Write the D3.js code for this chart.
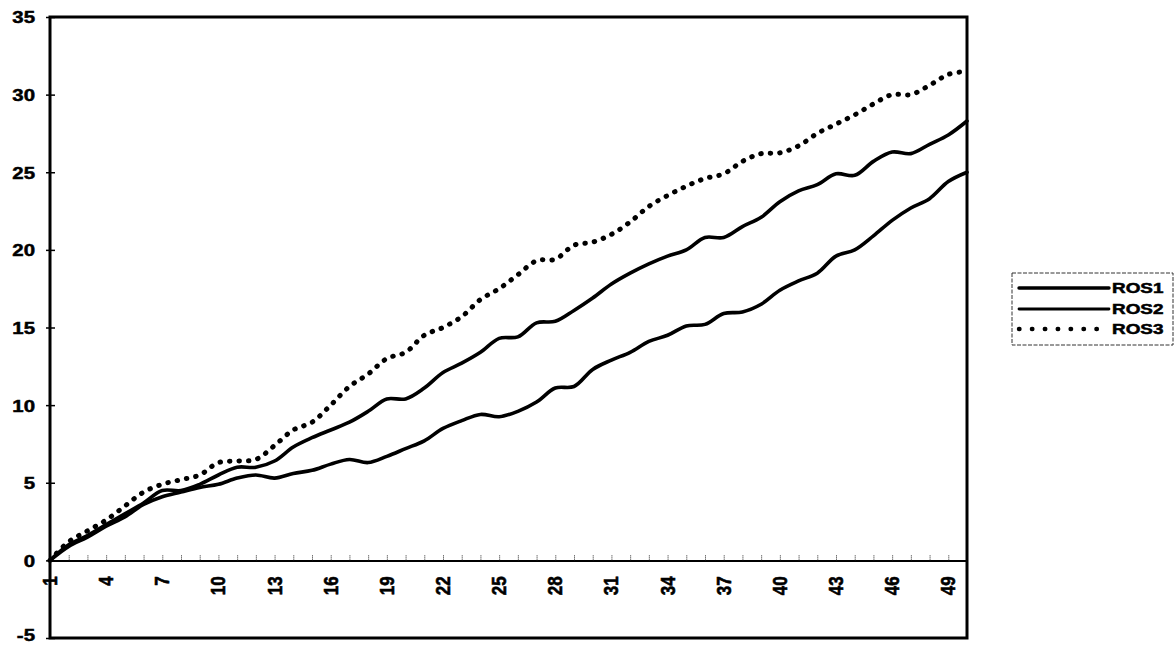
<!DOCTYPE html>
<html>
<head>
<meta charset="utf-8">
<script src="https://cdn.jsdelivr.net/npm/d3@7/dist/d3.min.js"></script>
<style>
  html, body { margin: 0; padding: 0; background: #fff; }
  svg { display: block; }
  text { font-family: "Liberation Sans", Arial, sans-serif; font-weight: bold; fill: #000; stroke: #000; stroke-width: 0.5px; }
</style>
</head>
<body>
<svg id="chart" width="1175" height="646"></svg>
<script>
// Periods 1..50
const periods = d3.range(1, 51);

// Cumulative values per series
const ros1 = [0, 0.9, 1.5, 2.2, 2.8, 3.6, 4.1, 4.4, 4.7, 4.9,
              5.3, 5.5, 5.3, 5.6, 5.8, 6.2, 6.5, 6.3, 6.7, 7.2,
              7.7, 8.5, 9.0, 9.4, 9.25, 9.6, 10.2, 11.1, 11.2, 12.3,
              12.9, 13.4, 14.1, 14.5, 15.1, 15.2, 15.9, 16.0, 16.5, 17.4,
              18.0, 18.5, 19.6, 20.0, 20.9, 21.9, 22.7, 23.3, 24.4, 25.0];

const ros2 = [0, 1.0, 1.6, 2.3, 3.0, 3.7, 4.5, 4.5, 4.9, 5.5,
              6.0, 6.0, 6.4, 7.3, 7.9, 8.4, 8.9, 9.6, 10.4, 10.4,
              11.1, 12.1, 12.7, 13.4, 14.3, 14.4, 15.3, 15.4, 16.1, 16.9,
              17.8, 18.5, 19.1, 19.6, 20.0, 20.8, 20.8, 21.5, 22.1, 23.1,
              23.8, 24.2, 24.9, 24.8, 25.7, 26.3, 26.2, 26.8, 27.4, 28.3];

const ros3 = [0, 1.2, 1.9, 2.6, 3.5, 4.4, 4.9, 5.2, 5.5, 6.3,
              6.4, 6.5, 7.4, 8.4, 8.9, 10.0, 11.2, 12.0, 13.0, 13.4,
              14.5, 15.0, 15.7, 16.8, 17.5, 18.4, 19.3, 19.4, 20.3, 20.5,
              21.0, 21.8, 22.8, 23.5, 24.1, 24.6, 24.9, 25.7, 26.2, 26.25,
              26.7, 27.5, 28.1, 28.7, 29.4, 30.0, 30.0, 30.6, 31.3, 31.5];

const seriesNames = ["ROS1", "ROS2", "ROS3"];
const seriesValues = [ros1, ros2, ros3];

const yTicks = [-5, 0, 5, 10, 15, 20, 25, 30, 35];
const xTickLabels = periods.filter(p => (p - 1) % 3 === 0);

const svg = d3.select("#chart");

const plot = { left: 50, right: 967, top: 17, bottom: 638 };

const x = d3.scalePoint()
  .domain(periods)
  .range([plot.left, plot.right]);

const y = d3.scaleLinear()
  .domain([-5, 35])
  .range([plot.bottom, plot.top]);

// Value axis (left)
const yAxis = d3.axisLeft(y)
  .tickValues(yTicks)
  .tickSize(0)
  .tickPadding(0)
  .tickFormat(d => String(d));

const gy = svg.append("g")
  .attr("transform", `translate(${plot.left},0)`)
  .call(yAxis);
gy.select(".domain").remove();
gy.selectAll(".tick text")
  .attr("x", 0)
  .attr("dy", null)
  .attr("dominant-baseline", "central")
  .attr("text-anchor", "end")
  .attr("transform", d => `translate(-15,${d === -5 ? -3 : 0}) scale(1.2,1)`)
  .style("font-size", "17px");
gy.selectAll(".tick")
  .append("line")
  .attr("x1", -4).attr("x2", 5)
  .attr("stroke", "#000").attr("stroke-width", 1.5);

// Category axis at zero
const gx = svg.append("g")
  .attr("transform", `translate(0,${y(0)})`)
  .call(d3.axisBottom(x).tickSize(0).tickFormat(""));
gx.select(".domain")
  .attr("stroke", "#000")
  .attr("stroke-width", 2);
gx.selectAll(".tick")
  .append("line")
  .attr("y1", -5).attr("y2", 0)
  .attr("stroke", "#222").attr("stroke-width", 1)
  .attr("stroke-dasharray", "1 1");

// Rotated period labels under the zero line
svg.append("g")
  .selectAll("text")
  .data(xTickLabels)
  .join("text")
  .attr("transform", d => `translate(${x(d)},${y(0) + 16}) scale(1.2,1) rotate(-90)`)
  .attr("text-anchor", "end")
  .attr("dominant-baseline", "central")
  .style("font-size", "17px")
  .text(d => d);

// Plot frame
svg.append("rect")
  .attr("x", plot.left)
  .attr("y", plot.top)
  .attr("width", plot.right - plot.left)
  .attr("height", plot.bottom - plot.top)
  .attr("fill", "none")
  .attr("stroke", "#000")
  .attr("stroke-width", 3);

// Series lines
const line = d3.line()
  .x((d, i) => x(periods[i]))
  .y(d => y(d))
  .curve(d3.curveCatmullRom.alpha(0.5));

const styles = [
  { width: 3.6, dash: null },
  { width: 3.6, dash: null },
  { width: 5, dash: "0.5 9" }
];

svg.append("g")
  .selectAll("path")
  .data(seriesValues)
  .join("path")
  .attr("d", d => line(d))
  .attr("fill", "none")
  .attr("stroke", "#000")
  .attr("stroke-width", (d, i) => styles[i].width)
  .attr("stroke-linecap", "round")
  .attr("stroke-linejoin", "round")
  .attr("stroke-dasharray", (d, i) => styles[i].dash);

// Legend
const legend = svg.append("g");
legend.append("rect")
  .attr("x", 1012).attr("y", 273)
  .attr("width", 161).attr("height", 72)
  .attr("fill", "none")
  .attr("stroke", "#333")
  .attr("stroke-width", 1)
  .attr("stroke-dasharray", "4 1.5");

const legendY = [288, 309, 329];
const legendWidths = [3.4, 2.8, 4.4];
const legendItems = legend.selectAll("g.item")
  .data(seriesNames)
  .join("g")
  .attr("class", "item")
  .attr("transform", (d, i) => `translate(0,${legendY[i]})`);

legendItems.append("line")
  .attr("x1", 1019).attr("x2", 1109)
  .attr("stroke", "#000")
  .attr("stroke-width", (d, i) => legendWidths[i])
  .attr("stroke-linecap", "round")
  .attr("stroke-dasharray", (d, i) => styles[i].dash ? "0.5 12.4" : null);

legendItems.append("text")
  .attr("transform", "translate(1112,0) scale(1.35,1)")
  .attr("dominant-baseline", "central")
  .style("font-size", "14px")
  .text(d => d);
</script>
</body>
</html>
